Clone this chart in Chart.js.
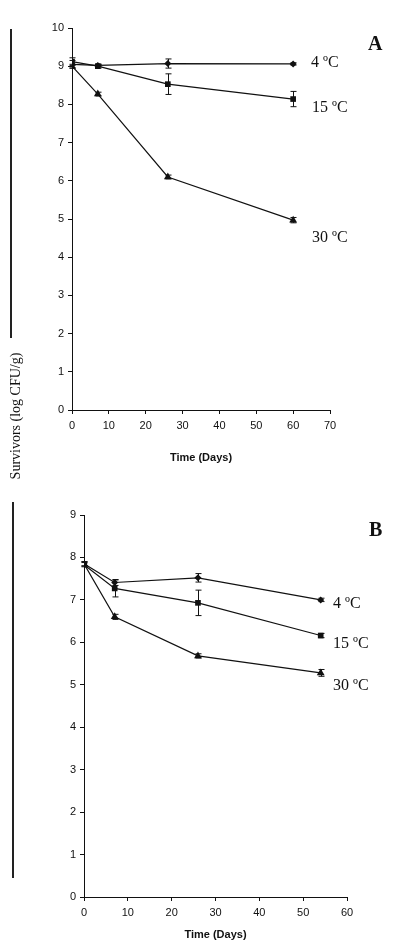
<!DOCTYPE html>
<html>
<head>
<meta charset="utf-8">
<script src="https://cdn.jsdelivr.net/npm/chart.js@4"></script>
<style>
  body { margin: 0; background: #fff; }
  #page { position: relative; width: 400px; height: 952px; overflow: hidden; }
  canvas { position: absolute; left: 0; }
  .lbl { position: absolute; font-family: "Liberation Serif", "Times New Roman", serif; font-size: 16px; color: #111; transform: translateY(-50%); white-space: nowrap; }
  .panel { position: absolute; font-family: "Liberation Serif", serif; font-weight: bold; font-size: 20px; color: #111; transform: translateY(-50%); }
  .vline { position: absolute; width: 2px; background: #222; }
  #ytitle { position: absolute; left: 16px; top: 416px; font-family: "Liberation Serif", serif; font-size: 14px; color: #111; white-space: nowrap; transform: translate(-50%, -50%) rotate(-90deg); }
</style>
</head>
<body>
<div id="page">
  <canvas id="chartA" width="400" height="475" style="top:0"></canvas>
  <canvas id="chartB" width="400" height="477" style="top:475px"></canvas>

  <div class="vline" style="left:10px; top:29px; height:309px"></div>
  <div class="vline" style="left:12px; top:502px; height:376px"></div>
  <div id="ytitle">Survivors (log CFU/g)</div>

  <div class="panel" style="left:368px; top:43px">A</div>
  <div class="lbl" style="left:311px; top:62px">4 ºC</div>
  <div class="lbl" style="left:312px; top:107px">15 ºC</div>
  <div class="lbl" style="left:312px; top:237px">30 ºC</div>

  <div class="panel" style="left:369px; top:529px">B</div>
  <div class="lbl" style="left:333px; top:603px">4 ºC</div>
  <div class="lbl" style="left:333px; top:643px">15 ºC</div>
  <div class="lbl" style="left:333px; top:685px">30 ºC</div>
</div>
<script>
// panel A
const daysA = [0, 7, 26, 60];
const a4 = [9.05, 9.02, 9.07, 9.06];
const a4Err = [0.1, 0.03, 0.12, 0.03];
const a15 = [9.12, 9.0, 8.53, 8.14];
const a15Err = [0.1, 0.05, 0.27, 0.2];
const a30 = [9.0, 8.27, 6.1, 4.97];
const a30Err = [0.05, 0.05, 0.05, 0.07];

// panel B
const daysB = [0, 7, 26, 54];
const b4 = [7.85, 7.41, 7.52, 7.0];
const b4Err = [0.05, 0.07, 0.1, 0.04];
const b15 = [7.83, 7.27, 6.93, 6.16];
const b15Err = [0.05, 0.2, 0.3, 0.05];
const b30 = [7.85, 6.6, 5.68, 5.28];
const b30Err = [0.05, 0.06, 0.05, 0.08];

const ink = '#111';

function pts(xs, ys) {
	return xs.map((x, i) => ({ x: x, y: ys[i] }));
}

function series(label, xs, ys, errs, style, radius) {
	return {
		label: label,
		data: pts(xs, ys),
		errors: errs,
		borderColor: ink,
		backgroundColor: ink,
		borderWidth: 1.2,
		pointStyle: style,
		pointRadius: radius,
		pointBorderWidth: 0,
		tension: 0
	};
}

// error bars with small caps
const errorBars = {
	id: 'errorBars',
	afterDatasetsDraw(chart) {
		const ctx = chart.ctx;
		const xs = chart.scales.x, ys = chart.scales.y;
		ctx.save();
		ctx.strokeStyle = ink;
		ctx.lineWidth = 1;
		chart.data.datasets.forEach(ds => {
			ds.data.forEach((p, i) => {
				const e = ds.errors[i];
				const px = Math.round(xs.getPixelForValue(p.x)) + 0.5;
				const top = ys.getPixelForValue(p.y + e);
				const bot = ys.getPixelForValue(p.y - e);
				ctx.beginPath();
				ctx.moveTo(px, top); ctx.lineTo(px, bot);
				ctx.moveTo(px - 3, top); ctx.lineTo(px + 3, top);
				ctx.moveTo(px - 3, bot); ctx.lineTo(px + 3, bot);
				ctx.stroke();
			});
		});
		ctx.restore();
	}
};

function axisOpts(max, step, width, isX) {
	const o = {
		type: 'linear',
		min: 0,
		max: max,
		ticks: { stepSize: step, color: ink, padding: isX ? 5 : 4, font: { family: 'Liberation Sans', size: 11 } },
		grid: { display: true, drawOnChartArea: false, drawTicks: true, tickLength: 4, color: ink },
		border: { display: true, color: ink, width: 1 }
	};
	if (isX) {
		o.title = { display: true, text: 'Time (Days)', color: ink, padding: { top: 0, bottom: 10 }, font: { family: 'Liberation Sans', size: 11, weight: 'bold' } };
	}
	o.afterFit = s => { if (isX) s.height = width; else s.width = width; };
	return o;
}

function makeChart(id, datasets, xMax, yMax, pad, yWidth, xHeight) {
	return new Chart(document.getElementById(id), {
		type: 'line',
		data: { datasets: datasets },
		options: {
			responsive: false,
			animation: false,
			layout: { padding: pad },
			plugins: { legend: { display: false }, tooltip: { enabled: false } },
			scales: {
				x: axisOpts(xMax, 10, xHeight, true),
				y: axisOpts(yMax, 1, yWidth, false)
			}
		},
		plugins: [errorBars]
	});
}

makeChart('chartA', [
	series('4 ºC', daysA, a4, a4Err, 'rectRot', 3.5),
	series('15 ºC', daysA, a15, a15Err, 'rect', 4),
	series('30 ºC', daysA, a30, a30Err, 'triangle', 4.5)
], 70, 10, { top: 28, left: 0, right: 70, bottom: 0 }, 72, 65);

makeChart('chartB', [
	series('4 ºC', daysB, b4, b4Err, 'rectRot', 3.5),
	series('15 ºC', daysB, b15, b15Err, 'rect', 4),
	series('30 ºC', daysB, b30, b30Err, 'triangle', 4.5)
], 60, 9, { top: 40, left: 0, right: 53, bottom: 0 }, 84, 55);
</script>
</body>
</html>
